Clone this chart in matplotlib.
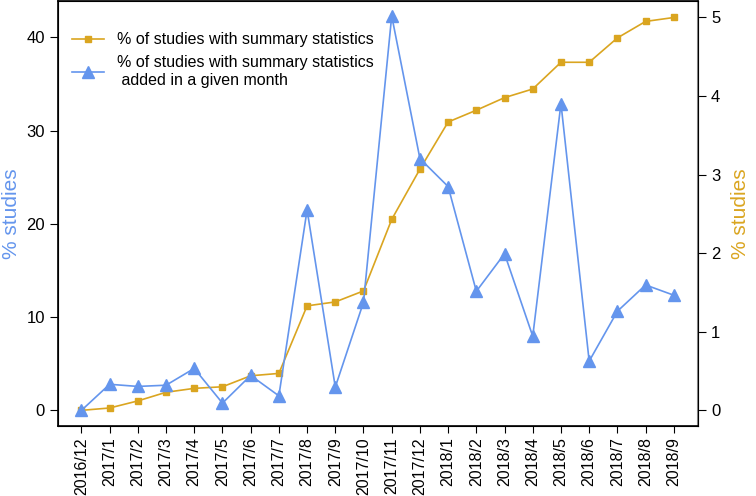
import matplotlib
matplotlib.use('Agg')
import matplotlib.pyplot as plt

plt.rcParams['font.family'] = ['Liberation Sans', 'DejaVu Sans']

months = ['2016/12', '2017/1', '2017/2', '2017/3', '2017/4', '2017/5', '2017/6',
          '2017/7', '2017/8', '2017/9', '2017/10', '2017/11', '2017/12', '2018/1',
          '2018/2', '2018/3', '2018/4', '2018/5', '2018/6', '2018/7', '2018/8', '2018/9']

# % of studies with summary statistics added in a given month (left axis)
added_pct = [0, 2.8, 2.57, 2.7, 4.5, 0.78, 3.75, 1.56, 21.5, 2.5, 11.6, 42.3,
             27.0, 24.0, 12.77, 16.8, 7.95, 32.9, 5.28, 10.63, 13.45, 12.35]

# cumulative % of studies with summary statistics (right axis)
cum_pct = [0, 0.03, 0.12, 0.23, 0.28, 0.30, 0.44, 0.47, 1.33, 1.38, 1.52, 2.43,
           3.07, 3.67, 3.82, 3.98, 4.09, 4.43, 4.43, 4.74, 4.95, 5.0]

blue = '#6495ED'
gold = '#DAA520'

x = list(range(len(months)))

fig = plt.figure(figsize=(7.56, 4.96), dpi=100)
ax = fig.add_axes([0.0767, 0.141, 0.8463, 0.857])
ax2 = ax.twinx()

l_blue, = ax.plot(x, added_pct, color=blue, marker='^', markersize=8, linewidth=1.2)
l_gold, = ax2.plot(x, cum_pct, color=gold, marker='s', markersize=5, linewidth=1.2)

ax.set_xlim(-0.83, 21.85)
ax.set_ylim(-1.68, 43.9)
ax2.set_ylim(-0.2, 5.21)

ax.set_xticks(x)
ax.set_xticklabels(months, rotation=90, fontsize=11.5)
ax.set_yticks([0, 10, 20, 30, 40])
ax2.set_yticks([0, 1, 2, 3, 4, 5])
ax.tick_params(axis='y', labelsize=12, length=6)
ax.tick_params(axis='x', length=5, pad=3)
ax2.tick_params(axis='y', labelsize=12, length=6)

ax.set_ylabel('% studies', color=blue, fontsize=15, labelpad=4)
ax2.set_ylabel('% studies', color=gold, fontsize=15, labelpad=8)

ax2.spines['right'].set_color('#888888')
ax2.spines['right'].set_linewidth(1.5)
for s in ['left', 'bottom', 'top']:
    ax.spines[s].set_linewidth(1.2)

# keep blue line on top
ax.set_zorder(ax2.get_zorder() + 1)
ax.patch.set_visible(False)

ax.legend([l_gold, l_blue],
          ['% of studies with summary statistics',
           '% of studies with summary statistics\n added in a given month'],
          loc='upper left', frameon=False, fontsize=11.5,
          bbox_to_anchor=(0.0, 0.96))

fig.savefig('out.png', dpi=100)
